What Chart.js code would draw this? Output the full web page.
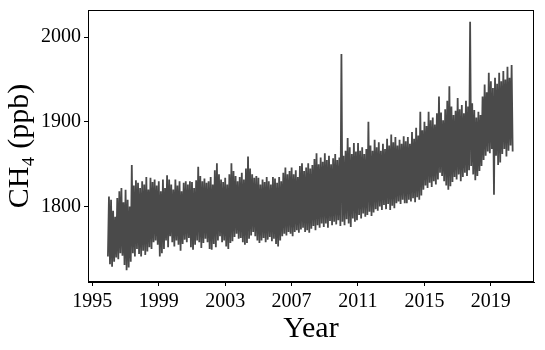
<!DOCTYPE html>
<html>
<head>
<meta charset="utf-8">
<script src="https://cdn.jsdelivr.net/npm/chart.js@4/dist/chart.umd.min.js"></script>
<style>
  html, body { margin: 0; padding: 0; background: #fff; }
  #wrap { width: 545px; height: 350px; }
</style>
</head>
<body>
<div id="wrap"><canvas id="grafica"></canvas></div>
<script>
// CH4 (ppb), 16 samples per year
const ch4_1996_1999 = [
  1741, 1812, 1732, 1808, 1729, 1795, 1735, 1788, 1740, 1810, 1738, 1818, 1745, 1822, 1742, 1805,
  1731, 1820, 1725, 1808, 1728, 1800, 1735, 1849, 1745, 1825, 1741, 1831, 1750, 1828, 1744, 1822,
  1741, 1830, 1748, 1826, 1743, 1835, 1747, 1820, 1752, 1834, 1750, 1829, 1758, 1832, 1760, 1825,
  1755, 1830, 1741, 1818, 1745, 1832, 1750, 1822, 1760, 1837, 1752, 1832, 1765, 1826, 1758, 1820
];
const ch4_2000_2003 = [
  1753, 1832, 1760, 1825, 1755, 1830, 1748, 1818, 1756, 1828, 1761, 1830, 1758, 1826, 1763, 1830,
  1752, 1829, 1749, 1822, 1755, 1831, 1760, 1847, 1758, 1836, 1751, 1830, 1757, 1833, 1762, 1828,
  1758, 1830, 1750, 1835, 1749, 1826, 1756, 1843, 1752, 1851, 1760, 1838, 1765, 1832, 1758, 1829,
  1760, 1834, 1753, 1826, 1750, 1838, 1757, 1851, 1759, 1842, 1764, 1836, 1768, 1830, 1762, 1835
];
const ch4_2004_2007 = [
  1763, 1840, 1758, 1832, 1755, 1845, 1757, 1859, 1762, 1845, 1766, 1838, 1770, 1834, 1765, 1836,
  1760, 1834, 1757, 1826, 1760, 1832, 1763, 1829, 1758, 1835, 1761, 1830, 1764, 1826, 1759, 1835,
  1762, 1833, 1756, 1828, 1753, 1835, 1760, 1830, 1765, 1840, 1768, 1846, 1766, 1838, 1770, 1842,
  1768, 1846, 1765, 1838, 1770, 1843, 1772, 1835, 1769, 1848, 1773, 1851, 1775, 1842, 1770, 1846
];
const ch4_2008_2011 = [
  1772, 1851, 1769, 1845, 1774, 1849, 1777, 1856, 1772, 1863, 1778, 1850, 1775, 1858, 1780, 1853,
  1776, 1863, 1780, 1855, 1775, 1860, 1783, 1850, 1778, 1857, 1782, 1862, 1779, 1855, 1784, 1858,
  1777, 1980, 1782, 1860, 1778, 1866, 1785, 1881, 1780, 1870, 1776, 1862, 1786, 1875, 1782, 1865,
  1784, 1875, 1790, 1866, 1786, 1870, 1792, 1862, 1788, 1868, 1790, 1900, 1794, 1872, 1789, 1866
];
const ch4_2012_2015 = [
  1793, 1879, 1797, 1870, 1795, 1876, 1800, 1866, 1796, 1874, 1802, 1868, 1797, 1880, 1803, 1872,
  1796, 1885, 1801, 1876, 1798, 1882, 1804, 1872, 1806, 1879, 1803, 1874, 1808, 1883, 1804, 1877,
  1804, 1882, 1808, 1874, 1806, 1888, 1810, 1880, 1805, 1893, 1811, 1884, 1808, 1912, 1813, 1890,
  1820, 1900, 1825, 1895, 1822, 1912, 1828, 1902, 1823, 1905, 1830, 1897, 1826, 1910, 1832, 1930
];
const ch4_2016_2020 = [
  1840, 1911, 1836, 1902, 1830, 1915, 1825, 1925, 1820, 1942, 1824, 1918, 1829, 1908, 1835, 1913,
  1832, 1928, 1838, 1915, 1830, 1920, 1835, 1910, 1840, 1925, 1836, 1918, 1843, 2018, 1848, 1922,
  1838, 1914, 1831, 1905, 1836, 1912, 1842, 1908, 1848, 1930, 1855, 1944, 1860, 1935, 1865, 1958,
  1863, 1948, 1868, 1940, 1814, 1952, 1860, 1945, 1849, 1958, 1852, 1948, 1862, 1960, 1868, 1950,
  1859, 1965, 1866, 1952, 1872, 1967, 1865
];

const primeraMuestra = 1995.94;   // year of first sample
const muestrasPorAno = 16;
const ticksAno = [1995, 1999, 2003, 2007, 2011, 2015, 2019];
const ticksCH4 = [1800, 1900, 2000];

const ch4 = [].concat(ch4_1996_1999, ch4_2000_2003, ch4_2004_2007,
                      ch4_2008_2011, ch4_2012_2015, ch4_2016_2020);
const puntos = ch4.map((v, i) => ({ x: primeraMuestra + i / muestrasPorAno, y: v }));

const serif = "'Liberation Serif', 'DejaVu Serif', serif";

// caja completa alrededor del area
const caja = {
  id: "caja",
  afterDraw(chart) {
    const a = chart.chartArea, ctx = chart.ctx;
    ctx.save();
    ctx.strokeStyle = "#000";
    ctx.lineWidth = 1;
    ctx.strokeRect(a.left + 0.5, a.top + 0.5, a.right - a.left - 1, a.bottom - a.top - 1);
    ctx.restore();
  }
};

new Chart(document.getElementById("grafica"), {
  type: "line",
  data: {
    datasets: [{
      data: puntos,
      borderColor: "#4a4a4a",
      borderWidth: 1.8,
      pointRadius: 0,
      tension: 0,
      fill: false
    }]
  },
  options: {
    responsive: true,
    maintainAspectRatio: false,
    animation: false,
    layout: { padding: { top: 10, right: 11, left: 0, bottom: 0 } },
    plugins: {
      legend: { display: false },
      tooltip: { enabled: false }
    },
    scales: {
      x: {
        type: "linear",
        min: 1994.74,
        max: 2021.6,
        afterBuildTicks: s => { s.ticks = ticksAno.map(v => ({ value: v })); },
        afterFit: s => { s.height = 68; s.paddingLeft = 0; s.paddingRight = 0; },
        grid: { display: true, drawOnChartArea: false, drawTicks: true, tickLength: 4, color: "#000" },
        border: { display: true, color: "#000" },
        ticks: {
          color: "#000",
          padding: 4,
          maxRotation: 0,
          font: { family: serif, size: 20 },
          callback: v => String(v)
        },
        title: {
          display: true,
          text: "Year",
          color: "#000",
          padding: { top: 0, bottom: 3 },
          font: { family: serif, size: 30 }
        }
      },
      y: {
        min: 1711,
        max: 2032,
        afterBuildTicks: s => { s.ticks = ticksCH4.map(v => ({ value: v })); },
        afterFit: s => { s.width = 88; s.paddingTop = 0; s.paddingBottom = 0; },
        grid: { display: true, drawOnChartArea: false, drawTicks: true, tickLength: 4, color: "#000" },
        border: { display: true, color: "#000" },
        ticks: {
          color: "#000",
          padding: 3,
          font: { family: serif, size: 20 },
          callback: v => String(v)
        },
        title: {
          display: true,
          text: "CH₄ (ppb)",
          color: "#000",
          padding: { top: 2, bottom: 0 },
          font: { family: serif, size: 30 }
        }
      }
    }
  },
  plugins: [caja]
});
</script>
</body>
</html>
